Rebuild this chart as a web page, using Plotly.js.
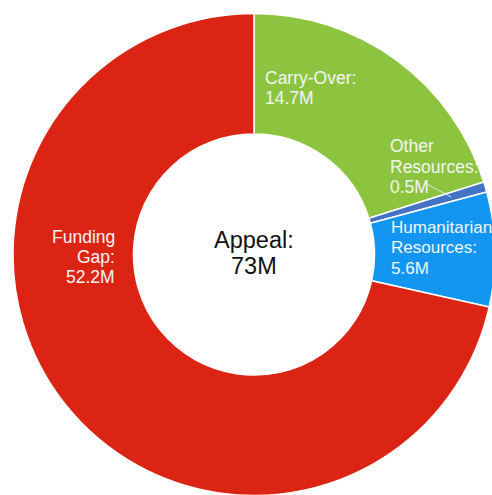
<!DOCTYPE html>
<html>
<head>
<meta charset="utf-8">
<script src="https://cdn.plot.ly/plotly-3.0.1.min.js"></script>
<style>
html,body{margin:0;padding:0;overflow:hidden;background:#fff;}
#chart{width:496px;height:497px;}
</style>
</head>
<body>
<div id="chart"></div>
<script>
const categories = ["Carry-Over", "Other Resources", "Humanitarian Resources", "Funding Gap"];
const values = [14.7, 0.5, 5.6, 52.2];
const colors = ["#8cc43f", "#4472c4", "#1396f2", "#dc2415"];
const labelLines = [
  ["Carry-Over:", "14.7M"],
  ["Other", "Resources:", "0.5M"],
  ["Humanitarian", "Resources:", "5.6M"],
  ["Funding", "Gap:", "52.2M"]
];
const centerLines = ["Appeal:", "73M"];

const W = 496, H = 497;
const px = x => x / W;
const py = y => 1 - y / H;

// label layout: [x, align, first-line center y, line step, font size]
const labelPos = [
  [263, "left", 78, 20, 17.5],
  [388, "left", 146, 20.5, 17.5],
  [389, "left", 227, 20.5, 17],
  [117, "right", 237, 20, 17.5]
];

const annotations = [];
labelLines.forEach((lines, i) => {
  const [x, align, y0, step, fs] = labelPos[i];
  lines.forEach((t, j) => {
    annotations.push({
      text: t, xref: "paper", yref: "paper",
      x: px(x), y: py(y0 + j * step),
      xanchor: align, yanchor: "middle", showarrow: false,
      font: {family: "Liberation Sans, Arial, sans-serif", size: fs, color: "#f4f4f4"}
    });
  });
});
centerLines.forEach((t, j) => {
  annotations.push({
    text: t, xref: "paper", yref: "paper",
    x: px(254), y: py(240 + j * 26),
    xanchor: "center", yanchor: "middle", showarrow: false,
    font: {family: "Liberation Sans, Arial, sans-serif", size: 23.5, color: "#111"}
  });
});

const data = [{
  type: "pie",
  labels: categories,
  values: values,
  hole: 0.5,
  sort: false,
  direction: "clockwise",
  rotation: 0,
  textinfo: "none",
  hoverinfo: "label+value",
  marker: {colors: colors, line: {color: "#ffffff", width: 1.5}},
  domain: {x: [13 / W, 495 / W], y: [1 - 496 / H, 1 - 13 / H]},
  showlegend: false
}];

const layout = {
  width: W, height: H,
  margin: {l: 0, r: 0, t: 0, b: 0, pad: 0},
  paper_bgcolor: "#ffffff",
  showlegend: false,
  annotations: annotations,
  shapes: [{
    type: "line", xref: "paper", yref: "paper",
    x0: px(427), y0: py(184), x1: px(451), y1: py(197),
    line: {color: "rgba(225,235,245,0.9)", width: 1}
  }]
};

Plotly.newPlot("chart", data, layout, {displayModeBar: false, staticPlot: true});
</script>
</body>
</html>
